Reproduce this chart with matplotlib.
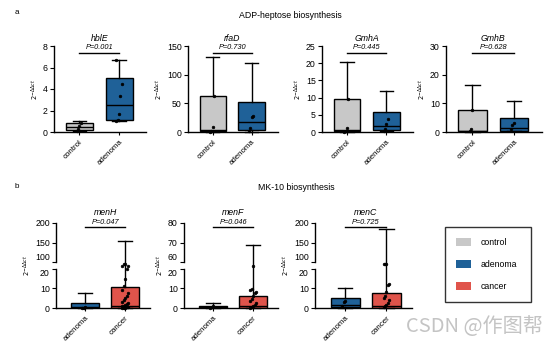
import numpy as np
import matplotlib
matplotlib.use("Agg")
import matplotlib.pyplot as plt
from matplotlib.patches import Patch

plt.rcParams['font.family'] = ['Liberation Sans', 'DejaVu Sans']

W, H = 554, 347

# ---------------- data ----------------
# box stats: [whislo, q1, med, q3, whishi]
top_genes = ["hblE", "rfaD", "GmhA", "GmhB"]
top_groups = ["control", "adenoma"]
top_pvals = ["P=0.001", "P=0.730", "P=0.445", "P=0.628"]
top_ymax = [8, 150, 25, 30]
top_yticks = [[0, 2, 4, 6, 8], [0, 50, 100, 150], [0, 5, 10, 15, 20, 25], [0, 10, 20, 30]]

hblE_stats = [[0.05, 0.15, 0.46, 0.83, 1.0], [1.0, 1.14, 2.55, 5.02, 6.72]]
hblE_pts = [[0.1, 0.28, 0.55, 0.85], [0.98, 1.14, 1.72, 3.35, 4.46, 6.72]]
rfaD_stats = [[0.0, 2.3, 4.0, 63.0, 130.0], [0.0, 3.0, 17.5, 52.5, 120.0]]
rfaD_pts = [[0.6, 2.3, 8.5, 63.0], [2.3, 6.4, 25.7, 27.5]]
GmhA_stats = [[0.0, 0.2, 0.5, 9.7, 20.4], [0.2, 0.5, 1.6, 5.7, 11.9]]
GmhA_pts = [[0.0, 0.3, 1.3, 9.7], [0.3, 1.0, 2.4, 3.75]]
GmhB_stats = [[0.0, 0.3, 0.5, 7.7, 16.4], [0.2, 0.35, 1.5, 4.75, 10.7]]
GmhB_pts = [[0.2, 1.2, 7.7], [0.9, 2.5, 3.1]]

bot_genes = ["menH", "menF", "menC"]
bot_groups = ["adenoma", "cancer"]
bot_pvals = ["P=0.047", "P=0.046", "P=0.725"]
bot_break = [(100, 200), (60, 80), (100, 200)]   # upper segment of broken axis
bot_yticks = [[0, 10, 20, 100, 150, 200], [0, 10, 20, 60, 70, 80], [0, 10, 20, 100, 150, 200]]

menH_stats = [[0.0, 0.1, 0.3, 2.6, 7.4], [0.0, 0.2, 1.0, 10.6, 153.0]]
menH_pts = [[0.0, 0.2, 0.5],
            [0.0, 0.1, 0.2, 0.4, 0.6, 0.9, 1.2, 1.6, 2.0, 2.5, 3.2, 4.0, 5.0, 6.0,
             7.5, 9.0, 11.0, 14.7, 19.8, 56.0, 58.0, 76.0, 78.0]]
menF_stats = [[0.0, 0.1, 0.4, 1.2, 2.7], [0.0, 0.2, 1.2, 6.2, 69.0]]
menF_pts = [[0.1, 0.5, 1.0],
            [0.0, 0.4, 1.0, 1.7, 2.7, 3.6, 4.8, 6.0, 7.4, 8.2, 8.9, 9.6, 38.0]]
menC_stats = [[0.2, 0.3, 1.7, 4.9, 10.2], [0.0, 0.1, 0.8, 7.6, 184.0]]
menC_pts = [[0.8, 2.9, 3.6],
            [0.3, 0.8, 1.7, 2.5, 3.9, 5.3, 6.3, 8.3, 11.7, 12.4, 78.0, 79.0, 80.0]]

legend_labels = ["control", "adenoma", "cancer"]

# ---------------- style ----------------
colors = {"control": "#c8c8c8", "adenoma": "#1f6198", "cancer": "#e0544b"}
FS = 6.3


def rect(x0, y0, x1, y1):
    return [x0 / W, 1 - y1 / H, (x1 - x0) / W, (y1 - y0) / H]


def draw_boxes(ax, stats, pts, groups, width):
    bstats = []
    for s, g in zip(stats, groups):
        bstats.append(dict(whislo=s[0], q1=s[1], med=s[2], q3=s[3], whishi=s[4], label=g))
    bp = ax.bxp(bstats, positions=[1, 2], widths=width, patch_artist=True,
                showfliers=False, manage_ticks=False,
                boxprops=dict(linewidth=1.0, edgecolor='black'),
                medianprops=dict(color='black', linewidth=1.0),
                whiskerprops=dict(color='black', linewidth=1.0),
                capprops=dict(color='black', linewidth=1.0))
    for patch, g in zip(bp['boxes'], groups):
        patch.set_facecolor(colors[g])
    for c in bp['caps']:
        c.set_clip_on(False)
    for wl in bp['whiskers']:
        wl.set_clip_on(False)
    for i, p in enumerate(pts):
        p = np.asarray(p)
        offs = (((np.arange(len(p)) % 5) - 2) * 0.035)
        ax.plot(i + 1 + offs, p, 'o', ms=2.0, color='black', mec='black',
                mew=0.4, clip_on=False, zorder=5)


def style_axes(ax, groups, xlim):
    for s in ['top', 'right']:
        ax.spines[s].set_visible(False)
    ax.spines['bottom'].set_linewidth(1.0)
    ax.spines['left'].set_linewidth(1.0)
    ax.set_xlim(*xlim)
    ax.set_xticks([1, 2])
    ax.set_xticklabels(groups, rotation=45, ha='right', rotation_mode='anchor', fontsize=FS - 0.6)
    ax.tick_params(axis='y', labelsize=FS, length=3, width=0.8, pad=1.5)
    ax.tick_params(axis='x', length=2.5, width=0.8, pad=2)
    ax.set_ylabel(r'$2^{-\Delta\Delta ct}$', fontsize=FS - 1.5, labelpad=2)


def annotate(ax, gene, pval, yline, ytxt, ygene):
    tr = ax.get_xaxis_transform()
    ax.plot([1, 2], [yline, yline], color='black', lw=1.0, transform=tr, clip_on=False)
    ax.text(1.5, ytxt, pval, transform=tr, ha='center', va='center', fontsize=FS - 1,
            style='italic')
    ax.text(1.5, ygene, gene, transform=tr, ha='center', va='center', fontsize=FS,
            style='italic')


fig = plt.figure(figsize=(W / 100, H / 100), dpi=100)

# ---------- top row ----------
top_rects = [(54, 46, 146, 132), (188, 46, 278, 132), (322, 46, 413, 132), (446, 46, 542, 132)]
top_stats = [hblE_stats, rfaD_stats, GmhA_stats, GmhB_stats]
top_pts = [hblE_pts, rfaD_pts, GmhA_pts, GmhB_pts]
for i in range(4):
    ax = fig.add_axes(rect(*top_rects[i]))
    draw_boxes(ax, top_stats[i], top_pts[i], top_groups, 0.68)
    style_axes(ax, top_groups, (0.36, 2.68))
    ax.set_ylim(0, top_ymax[i])
    ax.set_yticks(top_yticks[i])
    annotate(ax, top_genes[i], top_pvals[i], 0.92, 0.98, 1.09)

# ---------- bottom row (broken axes) ----------
def make_scale(lo_top, hi_top, gap=3.2):
    k = 20.0 / (hi_top - lo_top)
    g = gap / (lo_top - 20.0)

    def fwd(y):
        y = np.asarray(y, dtype=float)
        return np.where(y <= 20, y,
                        np.where(y < lo_top, 20 + (y - 20) * g, 20 + gap + (y - lo_top) * k))

    def inv(u):
        u = np.asarray(u, dtype=float)
        return np.where(u <= 20, u,
                        np.where(u < 20 + gap, 20 + (u - 20) / g, lo_top + (u - 20 - gap) / k))
    return fwd, inv


bot_rects = [(56, 223, 150, 308), (184, 223, 278, 308), (315, 223, 412, 308)]
bot_stats = [menH_stats, menF_stats, menC_stats]
bot_pts = [menH_pts, menF_pts, menC_pts]
for i in range(3):
    ax = fig.add_axes(rect(*bot_rects[i]))
    lo_top, hi_top = bot_break[i]
    ax.set_yscale('function', functions=make_scale(lo_top, hi_top))
    draw_boxes(ax, bot_stats[i], bot_pts[i], bot_groups, 0.7)
    style_axes(ax, bot_groups, (0.27, 2.62))
    ax.set_ylim(0, hi_top)
    ax.set_yticks(bot_yticks[i])
    ax.set_yticklabels([str(t) for t in bot_yticks[i]])
    # separate the two labels that meet at the break
    for lab, t in zip(ax.get_yticklabels(), bot_yticks[i]):
        if t == lo_top:
            lab.set_va('bottom')
        elif t == 20:
            lab.set_va('top')
    ax.spines['left'].set_visible(False)
    ytr = ax.get_yaxis_transform()
    ax.plot([0, 0], [0, 20], color='black', lw=1.0, transform=ytr, clip_on=False)
    ax.plot([0, 0], [lo_top, hi_top], color='black', lw=1.0, transform=ytr, clip_on=False)
    annotate(ax, bot_genes[i], bot_pvals[i], 0.953, 1.0, 1.12)

# ---------- section labels ----------
fig.text(15 / W, 1 - 13 / H, "a", fontsize=FS - 0.5, ha='left', va='center')
fig.text(15 / W, 1 - 187 / H, "b", fontsize=FS - 0.5, ha='left', va='center')
fig.text(290 / W, 1 - 16 / H, "ADP-heptose biosynthesis", fontsize=FS, ha='center', va='center')
fig.text(296 / W, 1 - 187 / H, "MK-10 biosynthesis", fontsize=FS, ha='center', va='center')

# ---------- legend ----------
handles = [Patch(facecolor=colors[l], edgecolor='none') for l in legend_labels]
leg = fig.legend(handles, legend_labels, loc='upper left',
                 bbox_to_anchor=(445 / W, 1 - 302 / H, 86 / W, 75 / H), mode='expand',
                 fontsize=FS, frameon=True, fancybox=False, edgecolor='black',
                 handlelength=1.7, handleheight=1.0, handletextpad=1.1,
                 labelspacing=1.5, borderpad=1.25, borderaxespad=0)
leg.get_frame().set_linewidth(1.0)

# ---------- watermark ----------
fig.text(406 / W, 1 - 327 / H, "CSDN @作图帮", fontsize=14.5, color='#c4c4c4',
         ha='left', va='center', family=['Noto Sans CJK SC', 'DejaVu Sans'])

fig.savefig("out.png", dpi=100)
